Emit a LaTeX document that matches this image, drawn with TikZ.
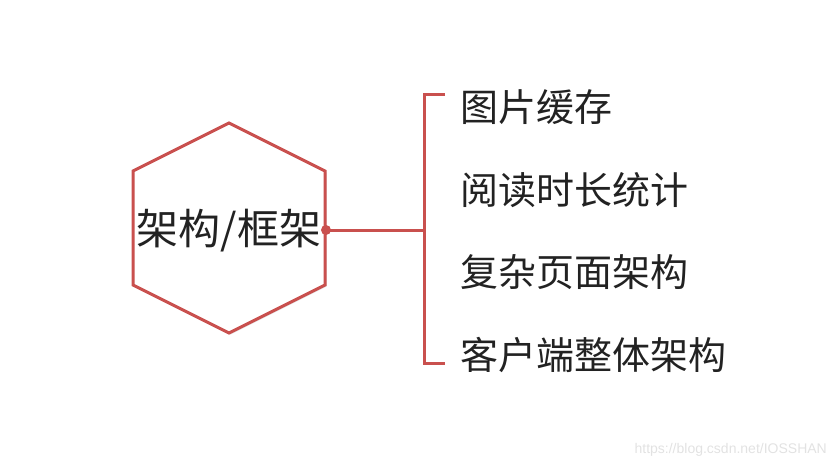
\documentclass[tikz,border=0pt]{standalone}
\usepackage{fontspec}
\newfontfamily\cjk{Noto Sans CJK SC}
\newfontfamily\wmfont{Liberation Sans}
\usetikzlibrary{shadows}
\definecolor{hexred}{HTML}{C9504E}
\definecolor{txtgray}{HTML}{222222}
\definecolor{wmgray}{HTML}{E2E2E2}

\begin{document}
\begin{tikzpicture}[x=1pt,y=-1pt]
\useasboundingbox (0,0) rectangle (836,466);

% hexagon corners
\coordinate (h1) at (229,123);
\coordinate (h2) at (325,171);
\coordinate (h3) at (325,285);
\coordinate (h4) at (229,333);
\coordinate (h5) at (133,285);
\coordinate (h6) at (133,171);
\draw[hexred, line width=3pt, line join=miter, fill=white,
      drop shadow={opacity=0.25, shadow xshift=1.5pt, shadow yshift=-1.5pt}]
    (h1) -- (h2) -- (h3) -- (h4) -- (h5) -- (h6) -- cycle;

\node[text=txtgray, font=\cjk\fontsize{42}{46}\selectfont, inner sep=0] (core) at (229,231) {架构/框架};

% bracket
\coordinate (dot) at (326,230);
\coordinate (bt) at (424,94);
\coordinate (bm) at (424,230);
\coordinate (bb) at (424,363);
\coordinate (tt) at (445,94);
\coordinate (tb) at (445,363);

\begin{scope}[every node/.style={anchor=west, inner sep=0, text=txtgray, font=\cjk\fontsize{38}{40}\selectfont}]
    \node (img) at (460,107) {图片缓存};
    \node (read) at (460,190) {阅读时长统计};
    \node (page) at (460,272) {复杂页面架构};
    \node (app) at (460,355) {客户端整体架构};
\end{scope}

\begin{scope}[hexred, line width=3pt]
    \draw (dot) -- (bm);
    \draw (tt) -- (bt) -- (bb) -- (tb);
    \fill (dot) circle[radius=5pt];
\end{scope}

\node[anchor=south east, inner sep=0, text=wmgray, font=\wmfont\fontsize{14}{16}\selectfont] (wm) at (827,457) {https://blog.csdn.net/IOSSHAN};
\end{tikzpicture}
\end{document}
